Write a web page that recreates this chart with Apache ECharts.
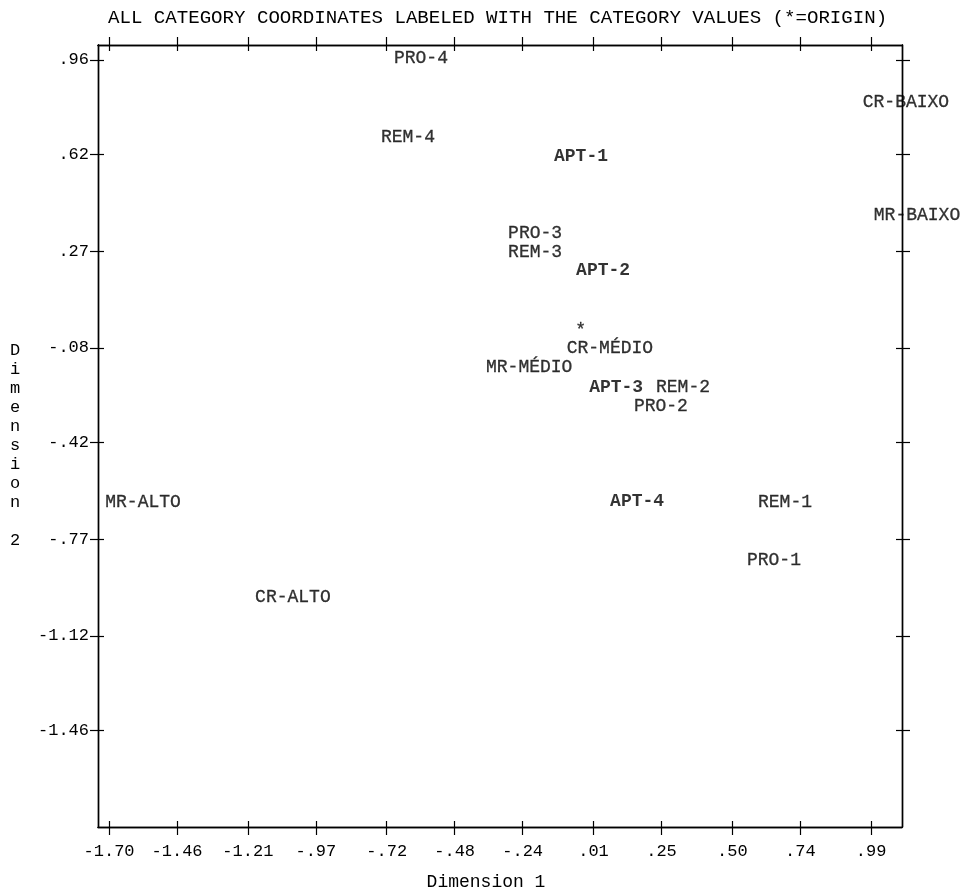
<!DOCTYPE html>
<html>
<head>
<meta charset="utf-8">
<script src="https://cdn.jsdelivr.net/npm/echarts@6/dist/echarts.min.js"></script>
<style>
  html, body { margin: 0; padding: 0; background: #fff; }
  #chart { width: 965px; height: 893px; }
</style>
</head>
<body>
<div id="chart"></div>
<script>
// Correspondence-analysis category plot: every category point is drawn as its label.
const TITLE = 'ALL CATEGORY COORDINATES LABELED WITH THE CATEGORY VALUES (*=ORIGIN)';
const X_NAME = 'Dimension 1';
const Y_NAME = 'Dimension 2';

// Tick values printed along the axes
const xTicks = [-1.70, -1.46, -1.21, -0.97, -0.72, -0.48, -0.24, 0.01, 0.25, 0.50, 0.74, 0.99];
const yTicks = [0.96, 0.62, 0.27, -0.08, -0.42, -0.77, -1.12, -1.46];

// Category coordinates (Dimension 1, Dimension 2)
const aptNames = ['APT-1', 'APT-2', 'APT-3', 'APT-4'];
const aptDim1 = [-0.034, 0.044, 0.090, 0.164];
const aptDim2 = [0.610, 0.198, -0.221, -0.636];

const proNames = ['PRO-1', 'PRO-2', 'PRO-3', 'PRO-4'];
const proDim1 = [0.647, 0.248, -0.196, -0.599];
const proDim2 = [-0.846, -0.290, 0.335, 0.967];

const remNames = ['REM-1', 'REM-2', 'REM-3', 'REM-4'];
const remDim1 = [0.686, 0.326, -0.196, -0.645];
const remDim2 = [-0.636, -0.221, 0.267, 0.682];

const crNames = ['CR-ALTO', 'CR-MÉDIO', 'CR-BAIXO'];
const crDim1 = [-1.051, 0.068, 1.113];
const crDim2 = [-0.979, -0.080, 0.808];

const mrNames = ['MR-ALTO', 'MR-MÉDIO', 'MR-BAIXO'];
const mrDim1 = [-1.580, -0.217, 1.152];
const mrDim2 = [-0.636, -0.149, 0.400];

const originName = ['*'];
const originDim1 = [0];
const originDim2 = [0];

// Axis extents
const X_MIN = -1.739, X_MAX = 1.099;
const Y_MIN = -1.810, Y_MAX = 1.014;

const FONT = '"Liberation Mono", "DejaVu Sans Mono", monospace';
const INK = '#000';

function fmt(v) {
  let s = Math.abs(v).toFixed(2);
  if (s.charAt(0) === '0') s = s.slice(1);
  return (v < 0 ? '-' : '') + s;
}

function points(names, d1, d2) {
  return names.map((n, i) => ({ name: n, value: [d1[i], d2[i]] }));
}

const GRID = { left: 98, top: 45, width: 804, height: 782, show: false,
               containLabel: false, outerBoundsMode: 'none' };

// Ticks cross the frame: one axis set draws them outward, a twin set inward.
function xAxis(gridIndex, position, inside, withLabels) {
  return {
    type: 'value', gridIndex, position, min: X_MIN, max: X_MAX,
    axisLine: { show: true, onZero: false, lineStyle: { color: INK, width: 1.4 } },
    axisTick: { show: true, inside, length: inside ? 6 : 8, customValues: xTicks,
                lineStyle: { color: INK, width: 1.2 } },
    axisLabel: { show: withLabels, customValues: xTicks, formatter: fmt, margin: 16,
                 color: INK, fontFamily: FONT, fontSize: 17 },
    splitLine: { show: false },
    name: withLabels ? X_NAME : '',
    nameLocation: 'middle', nameGap: 46,
    nameTextStyle: { color: INK, fontFamily: FONT, fontSize: 18, padding: [0, 28, 0, 0] }
  };
}

// The vertical axis title is stacked one letter per line, with a blank line for the space.
function stacked(text) {
  return '\n' + text.split('').map(c => (c === ' ' ? '' : c)).join('\n');
}

function yAxis(gridIndex, position, inside, withLabels) {
  return {
    type: 'value', gridIndex, position, min: Y_MIN, max: Y_MAX,
    axisLine: { show: true, onZero: false, lineStyle: { color: INK, width: 1.4 } },
    axisTick: { show: true, inside, length: inside ? 6 : 8, customValues: yTicks,
                lineStyle: { color: INK, width: 1.2 } },
    axisLabel: { show: withLabels, customValues: yTicks, formatter: fmt, margin: 9,
                 color: INK, fontFamily: FONT, fontSize: 17 },
    splitLine: { show: false },
    name: withLabels ? stacked(Y_NAME) : '',
    nameLocation: 'middle', nameGap: 83, nameRotate: 0,
    nameTextStyle: { color: INK, fontFamily: FONT, fontSize: 17, lineHeight: 19,
                     align: 'center', verticalAlign: 'middle' }
  };
}

function labelSeries(name, data, bold, offset) {
  return {
    name, type: 'scatter', xAxisIndex: 0, yAxisIndex: 0,
    symbolSize: 0, clip: false, silent: true,
    label: {
      show: true, position: 'inside', formatter: '{b}', offset: offset || [0, 0],
      color: INK, textBorderColor: INK, textBorderWidth: bold ? 0 : 0.3,
      fontFamily: FONT, fontSize: 18, fontWeight: bold ? 'bold' : 'normal'
    },
    data
  };
}

const chart = echarts.init(document.getElementById('chart'));
chart.setOption({
  backgroundColor: '#fff',
  animation: false,
  title: {
    text: TITLE, left: 103, top: 3,
    textStyle: { color: INK, fontFamily: FONT, fontSize: 19.1, fontWeight: 'normal' }
  },
  grid: [Object.assign({}, GRID), Object.assign({}, GRID)],
  xAxis: [
    xAxis(0, 'bottom', false, true),
    xAxis(0, 'top', false, false),
    xAxis(1, 'bottom', true, false),
    xAxis(1, 'top', true, false)
  ],
  yAxis: [
    yAxis(0, 'left', false, true),
    yAxis(0, 'right', false, false),
    yAxis(1, 'left', true, false),
    yAxis(1, 'right', true, false)
  ],
  series: [
    labelSeries('APT', points(aptNames, aptDim1, aptDim2), true),
    labelSeries('PRO', points(proNames, proDim1, proDim2), false),
    labelSeries('REM', points(remNames, remDim1, remDim2), false),
    labelSeries('CR', points(crNames, crDim1, crDim2), false),
    labelSeries('MR', points(mrNames, mrDim1, mrDim2), false),
    labelSeries('Origin', points(originName, originDim1, originDim2), false, [-10, 4])
  ]
});
</script>
</body>
</html>
